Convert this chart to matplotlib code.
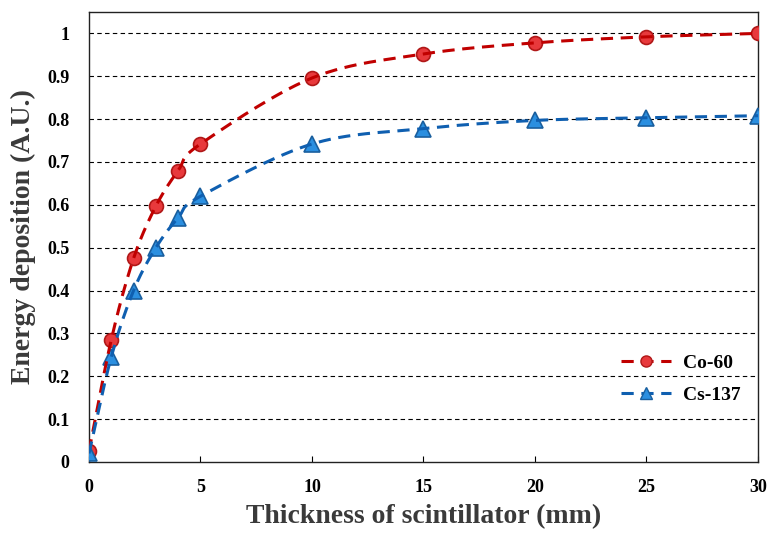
import numpy as np
import matplotlib
matplotlib.use("Agg")
import matplotlib.pyplot as plt

thickness = [0, 1, 2, 3, 4, 5, 10, 15, 20, 25, 30]
co60 = [0.025, 0.285, 0.475, 0.597, 0.680, 0.742, 0.896, 0.952, 0.978, 0.992, 1.000]
cs137 = [0.020, 0.245, 0.400, 0.500, 0.570, 0.620, 0.742, 0.778, 0.797, 0.803, 0.808]
xticks = [0, 5, 10, 15, 20, 25, 30]
yticks = [0, 0.1, 0.2, 0.3, 0.4, 0.5, 0.6, 0.7, 0.8, 0.9, 1.0]
ytick_labels = ["0", "0.1", "0.2", "0.3", "0.4", "0.5", "0.6", "0.7", "0.8", "0.9", "1"]


def smooth(x, y, n=30):
    # Catmull-Rom style smoothing (like spreadsheet "smoothed line")
    x = np.asarray(x, float)
    y = np.asarray(y, float)
    px = np.concatenate([[2 * x[0] - x[1]], x, [2 * x[-1] - x[-2]]])
    py = np.concatenate([[2 * y[0] - y[1]], y, [2 * y[-1] - y[-2]]])
    xs, ys = [], []
    t = np.linspace(0, 1, n)
    for i in range(1, len(px) - 2):
        p0, p1, p2, p3 = [np.array([px[j], py[j]]) for j in (i - 1, i, i + 1, i + 2)]
        c1 = p1 + (p2 - p0) / 6.0
        c2 = p2 - (p3 - p1) / 6.0
        b = ((1 - t) ** 3)[:, None] * p1 + (3 * (1 - t) ** 2 * t)[:, None] * c1 \
            + (3 * (1 - t) * t ** 2)[:, None] * c2 + (t ** 3)[:, None] * p2
        xs.extend(b[:, 0])
        ys.extend(b[:, 1])
    return np.array(xs), np.array(ys)


plt.rcParams['font.family'] = ['Liberation Serif', 'DejaVu Serif']
fig = plt.figure(figsize=(7.77, 5.38), dpi=100)
ax = fig.add_axes([0.1145, 0.1413, 0.8610, 0.8364])

for yv in yticks[1:]:
    ax.axhline(yv, color='black', lw=0.8, ls=(0, (4, 3)), zorder=1)

red_line = '#c00000'
blue_line = '#0f5fb0'

sx, sy = smooth(thickness, co60)
ax.plot(thickness, co60, ls='none', marker='o', ms=10, mfc='#e8393c', mec='#b01818', mew=1.2, zorder=3)
ax.plot(sx, sy, color=red_line, lw=2.2, ls=(0, (4, 2.5)), zorder=4)

sx2, sy2 = smooth(thickness, cs137)
ax.plot(thickness, cs137, ls='none', marker='^', ms=11, mfc='#2b8fe0', mec='#1a5f9e', mew=1.2, zorder=3)
ax.plot(sx2, sy2, color=blue_line, lw=2.2, ls=(0, (4, 2.5)), zorder=4)

h1, = ax.plot([], [], color=red_line, lw=2.2, ls=(0, (4, 2.5)), marker='o', ms=8,
              mfc='#e8393c', mec='#b01818')
h2, = ax.plot([], [], color=blue_line, lw=2.2, ls=(0, (4, 2.5)), marker='^', ms=9,
              mfc='#2b8fe0', mec='#1a5f9e')
leg = ax.legend([h1, h2], ['Co-60', 'Cs-137'], loc='lower right', bbox_to_anchor=(1.0, 0.09),
                frameon=False, prop={'weight': 'bold', 'size': 14}, handlelength=2.6,
                labelspacing=0.75, handletextpad=0.6)

ax.set_xlim(0, 30)
ax.set_ylim(0, 1.05)
ax.set_xticks(xticks)
ax.set_xticklabels([str(v) for v in xticks], fontsize=13, fontweight='bold')
ax.set_yticks(yticks)
ax.set_yticklabels(ytick_labels, fontsize=13, fontweight='bold')
ax.tick_params(axis='x', direction='in', length=4, pad=12, width=0.8)
ax.tick_params(axis='y', length=0, pad=14)
for s in ax.spines.values():
    s.set_linewidth(1.0)
    s.set_color('#222222')

ax.set_xlabel('Thickness of scintillator (mm)', fontsize=20, fontweight='bold', color='#3a3a3a', labelpad=6)
ax.set_ylabel('Energy deposition (A.U.)', fontsize=20, fontweight='bold', color='#3a3a3a', labelpad=8)

fig.savefig('out.png', dpi=100)
